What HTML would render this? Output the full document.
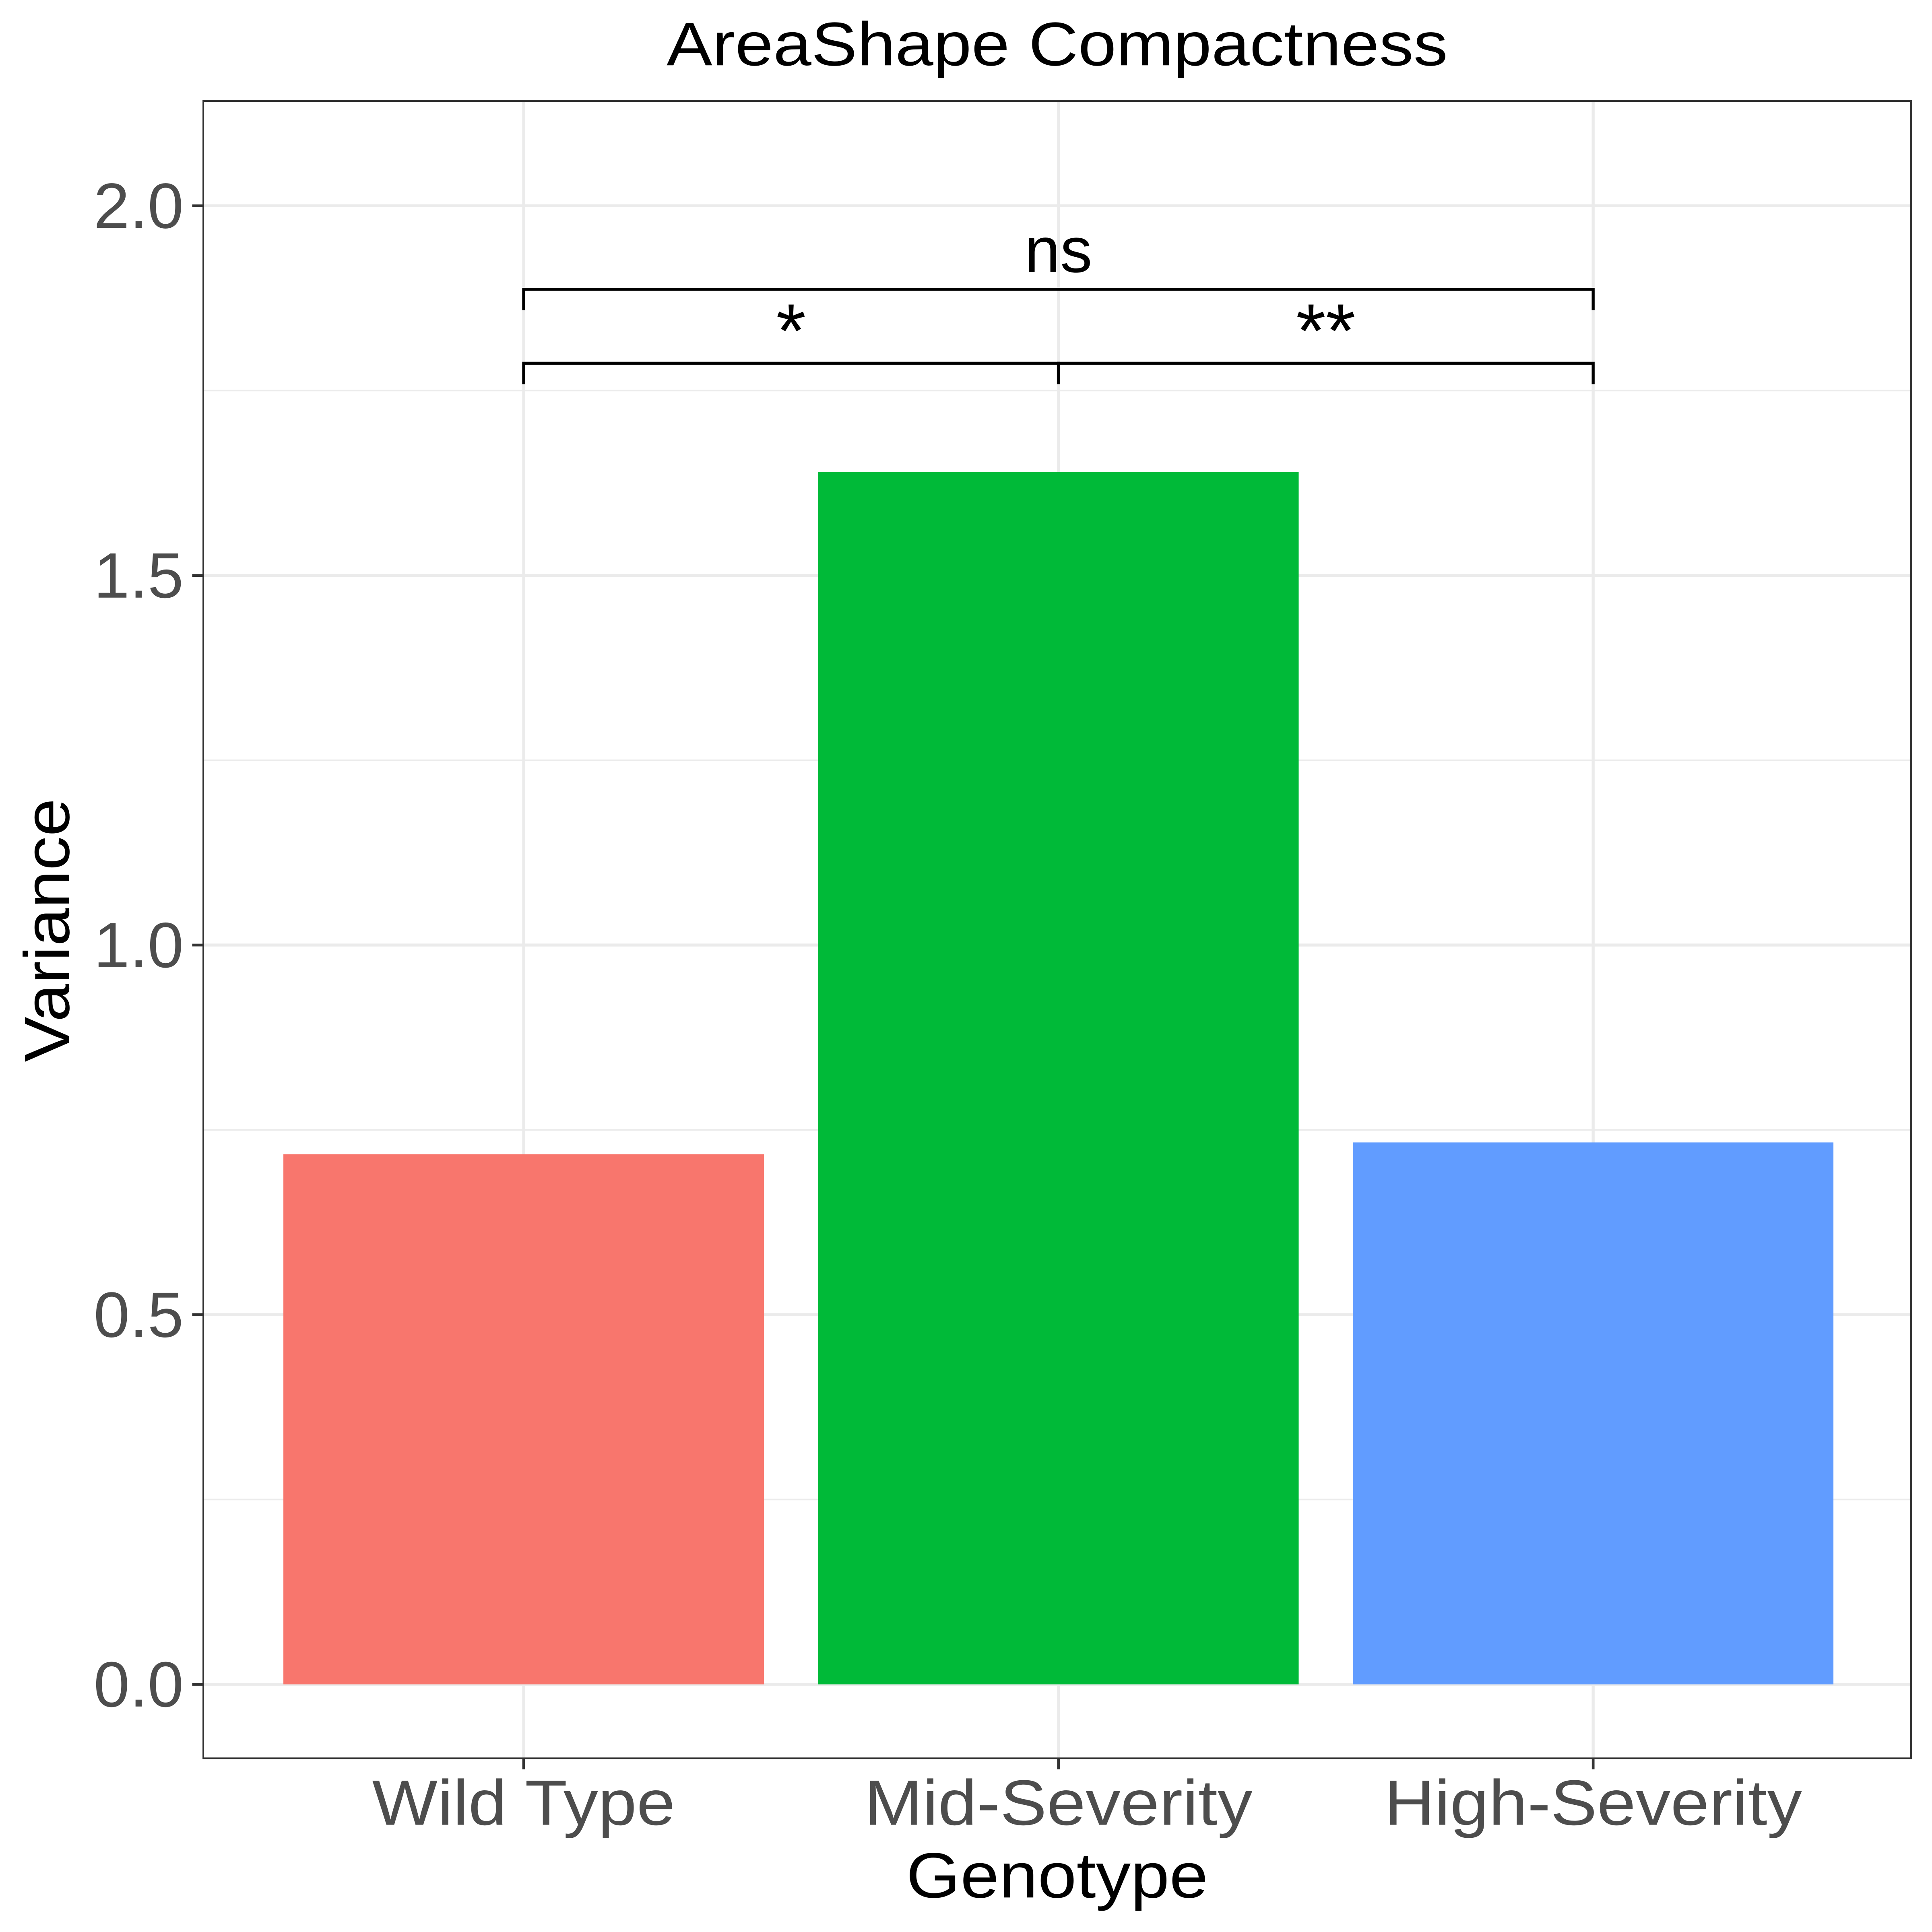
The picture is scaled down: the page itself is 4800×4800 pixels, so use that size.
<!DOCTYPE html>
<html><head><meta charset="utf-8"><style>
html,body{margin:0;padding:0;background:#fff;}
svg{display:block;font-family:"Liberation Sans",sans-serif;}
</style></head><body>
<svg id="chart" width="4800" height="4800" viewBox="0 0 1568 1568" xmlns="http://www.w3.org/2000/svg">
<rect x="0" y="0" width="1568" height="1568" fill="#fff"/>
<text x="858" y="53" font-size="50" text-anchor="middle" textLength="634" lengthAdjust="spacingAndGlyphs" fill="#000">AreaShape Compactness</text>
<g id="grid"></g>
<g id="bars"></g>
<g id="sig"></g>
<rect x="165" y="82" width="1386" height="1345" fill="none" stroke="#333" stroke-width="1.3"/>
<g id="axes"></g>
<text x="858" y="1540" font-size="52" text-anchor="middle" textLength="245" lengthAdjust="spacingAndGlyphs" fill="#000">Genotype</text>
<text transform="translate(56,755) rotate(-90)" font-size="52" text-anchor="middle" textLength="214" lengthAdjust="spacingAndGlyphs" fill="#000">Variance</text>
</svg>
<script>
const categories = ["Wild Type", "Mid-Severity", "High-Severity"];
const values = [0.717, 1.64, 0.733];
const colors = ["#F8766D", "#00BA38", "#619CFF"];
const yTicks = [0, 0.5, 1.0, 1.5, 2.0];
const yTickLabels = ["0.0", "0.5", "1.0", "1.5", "2.0"];
const yMinor = [0.25, 0.75, 1.25, 1.75];
const comparisons = [[0, 1], [1, 2], [0, 2]];
const compLabels = ["*", "**", "ns"];
const compHeights = [1.787, 1.787, 1.887];

const NS = "http://www.w3.org/2000/svg";
const y = v => 1367 - v * 600;
const x = i => 425 + i * 434;
const bw = 390;
function mk(tag, attrs, parent) {
  const e = document.createElementNS(NS, tag);
  for (const k in attrs) e.setAttribute(k, attrs[k]);
  parent.appendChild(e);
  return e;
}
const grid = document.getElementById("grid");
yMinor.forEach(v => {
  const l = mk("line", {x1: 165, x2: 1551, y1: y(v), y2: y(v), stroke: "#ebebeb", "stroke-width": 1.2}, grid);
  
  
});
yTicks.forEach(v => {
  const l = mk("line", {x1: 165, x2: 1551, y1: y(v), y2: y(v), stroke: "#ebebeb", "stroke-width": 2.4}, grid);
  
  
});
categories.forEach((c, i) => {
  const l = mk("line", {x1: x(i), x2: x(i), y1: 82, y2: 1427, stroke: "#ebebeb", "stroke-width": 2.4}, grid);
  
  
});
const bars = document.getElementById("bars");
values.forEach((v, i) => {
  const r = mk("rect", {x: x(i) - bw / 2, y: y(v), width: bw, height: y(0) - y(v), fill: colors[i]}, bars);
  
  
});
const sig = document.getElementById("sig");
comparisons.forEach((p, k) => {
  const yy = y(compHeights[k]);
  const x1 = x(p[0]), x2 = x(p[1]);
  const path = mk("path", {d: `M${x1},${yy + 17} V${yy} H${x2} V${yy + 17}`, fill: "none", stroke: "#000", "stroke-width": 2.4}, sig);
  
  
  const isStar = compLabels[k].indexOf("*") >= 0;
  const t = mk("text", {x: (x1 + x2) / 2, y: yy + (isStar ? -5 : -14), "font-size": isStar ? 62 : 52, "text-anchor": "middle", fill: "#000"}, sig);
  t.textContent = compLabels[k];
  
  
});
const axes = document.getElementById("axes");
yTicks.forEach((v, i) => {
  const l = mk("line", {x1: 156, x2: 165, y1: y(v), y2: y(v), stroke: "#333", "stroke-width": 2.2}, axes);
  
  
  const t = mk("text", {x: 149, y: y(v) + 18, "font-size": 52, "text-anchor": "end", textLength: 73, lengthAdjust: "spacingAndGlyphs", fill: "#4d4d4d"}, axes);
  t.textContent = yTickLabels[i];
  
  
});
const xLabelW = [246, 315, 339];
categories.forEach((c, i) => {
  const l = mk("line", {x1: x(i), x2: x(i), y1: 1427, y2: 1436, stroke: "#333", "stroke-width": 2.2}, axes);
  
  
  const t = mk("text", {x: x(i), y: 1481, "font-size": 52, "text-anchor": "middle", textLength: xLabelW[i], lengthAdjust: "spacingAndGlyphs", fill: "#4d4d4d"}, axes);
  t.textContent = c;
  
  
});
</script>
</body></html>
